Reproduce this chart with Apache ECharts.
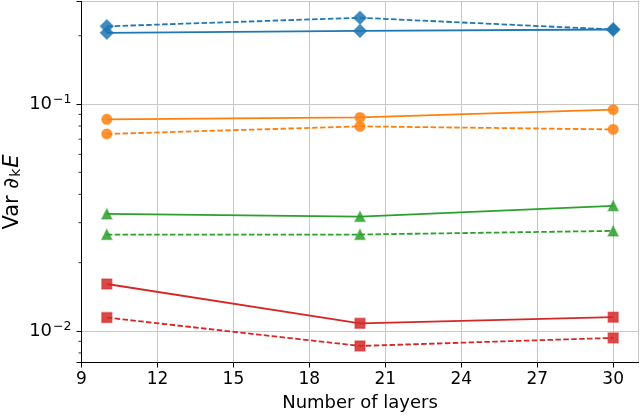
<!DOCTYPE html>
<html><head><meta charset="utf-8">
<script src="https://cdn.jsdelivr.net/npm/echarts@6/dist/echarts.min.js"></script>
<style>html,body{margin:0;padding:0;background:#fff}#c{width:640px;height:416px}</style>
</head><body><div id="c"></div>
<script>
const layers = [10, 20, 30];
const blueSolid = [0.206, 0.210, 0.213];
const blueDashed = [0.220, 0.240, 0.213];
const orangeSolid = [0.0856, 0.0873, 0.0944];
const orangeDashed = [0.0738, 0.0797, 0.0773];
const greenSolid = [0.0328, 0.0319, 0.0356];
const greenDashed = [0.0266, 0.0266, 0.0276];
const redSolid = [0.0161, 0.0108, 0.0115];
const redDashed = [0.01145, 0.00859, 0.00932];
const xTickValues = [9, 12, 15, 18, 21, 24, 27, 30];
const yMinorTicks = [0.008, 0.009, 0.02, 0.03, 0.04, 0.05, 0.06, 0.07, 0.08, 0.09, 0.2];

const FONT = 'DejaVu Sans';
const colors = {blue:'#1f77b4', orange:'#ff7f0e', green:'#2ca02c', red:'#d62728'};
const light = {blue:'rgba(31,119,180,0.55)', orange:'rgba(255,127,14,0.55)', green:'rgba(44,160,44,0.55)', red:'rgba(214,39,40,0.55)'};

function mk(vals, c, dashed, symbol, size) {
  return {
    type: 'line',
    data: layers.map((x, i) => [x, vals[i]]),
    symbol: symbol, symbolSize: size, showAllSymbol: true,
    lineStyle: {color: colors[c], width: 1.8, type: dashed ? [5.5, 2.4] : 'solid'},
    itemStyle: {color: colors[c], borderColor: light[c], borderWidth: 1.5, opacity: 0.85},
    z: 3, animation: false
  };
}

const chart = echarts.init(document.getElementById('c'), null, {renderer: 'canvas'});
chart.setOption({
  animation: false,
  textStyle: {fontFamily: FONT},
  grid: {left: 81.5, right: 1.5, top: 1.5, bottom: 53.5, outerBoundsMode: 'none', containLabel: false,
    show: true, borderColor: '#000', borderWidth: 1, backgroundColor: 'transparent'},
  xAxis: {
    type: 'value', min: 9, max: 31, interval: 3,
    axisLine: {show: true, lineStyle: {color: '#000', width: 1}},
    axisTick: {show: true, length: 5, lineStyle: {color: '#000', width: 1}},
    axisLabel: {fontSize: 17, color: '#000', fontFamily: FONT, margin: 9, showMaxLabel: false,
      formatter: v => xTickValues.includes(v) ? String(v) : ''},
    splitLine: {show: true, lineStyle: {color: '#c8c8c8', width: 1}},
    name: 'Number of layers', nameLocation: 'middle', nameGap: 32, nameMoveOverlap: false,
    nameTextStyle: {fontSize: 18, color: '#000', fontFamily: FONT}
  },
  yAxis: {
    type: 'log', logBase: 10, min: 0.00726, max: 0.283,
    axisLine: {show: true, lineStyle: {color: '#000', width: 1}},
    axisTick: {show: true, length: 5, lineStyle: {color: '#000', width: 1}},
    axisLabel: {
      color: '#000', fontFamily: FONT, margin: 10,
      formatter: v => {
        const l = Math.log10(v), e = Math.round(l);
        if (Math.abs(l - e) > 1e-6) return '';
        return '{a|10}{b|\u2212' + Math.abs(e) + '}';
      },
      rich: {
        a: {fontSize: 18, fontFamily: FONT, color: '#000'},
        b: {fontSize: 12.5, fontFamily: FONT, color: '#000', verticalAlign: 'bottom', padding: [0, 0, 8, 1]}
      }
    },
    splitLine: {show: true, lineStyle: {color: '#c8c8c8', width: 1}},
    name: 'Var \u2202{k|k}{e|E}', nameLocation: 'middle', nameRotate: 90, nameGap: 58, nameMoveOverlap: false,
    nameTextStyle: {fontSize: 21, color: '#000', fontFamily: FONT, padding: [0, 20, 0, 0],
      rich: {
        k: {fontSize: 14, fontFamily: FONT, color: '#000', verticalAlign: 'top', padding: [8, 1, 0, 1]},
        e: {fontSize: 21, fontFamily: FONT, color: '#000', fontStyle: 'italic'}
      }}
  },
  series: [
    mk(blueSolid, 'blue', false, 'diamond', 13),
    mk(blueDashed, 'blue', true, 'diamond', 13),
    mk(orangeSolid, 'orange', false, 'circle', 10),
    mk(orangeDashed, 'orange', true, 'circle', 10),
    mk(greenSolid, 'green', false, 'triangle', 10),
    mk(greenDashed, 'green', true, 'triangle', 10),
    mk(redSolid, 'red', false, 'rect', 10),
    mk(redDashed, 'red', true, 'rect', 10),
    {
      type: 'custom', silent: true, clip: false, animation: false,
      data: yMinorTicks.map(v => [9, v]),
      encode: {x: 0, y: 1},
      renderItem: (params, api) => {
        const p = api.coord([api.value(0), api.value(1)]);
        return {type: 'line', shape: {x1: p[0] - 3, y1: p[1], x2: p[0], y2: p[1]},
          style: {stroke: '#000', lineWidth: 0.8}};
      }
    }
  ]
});
</script></body></html>
